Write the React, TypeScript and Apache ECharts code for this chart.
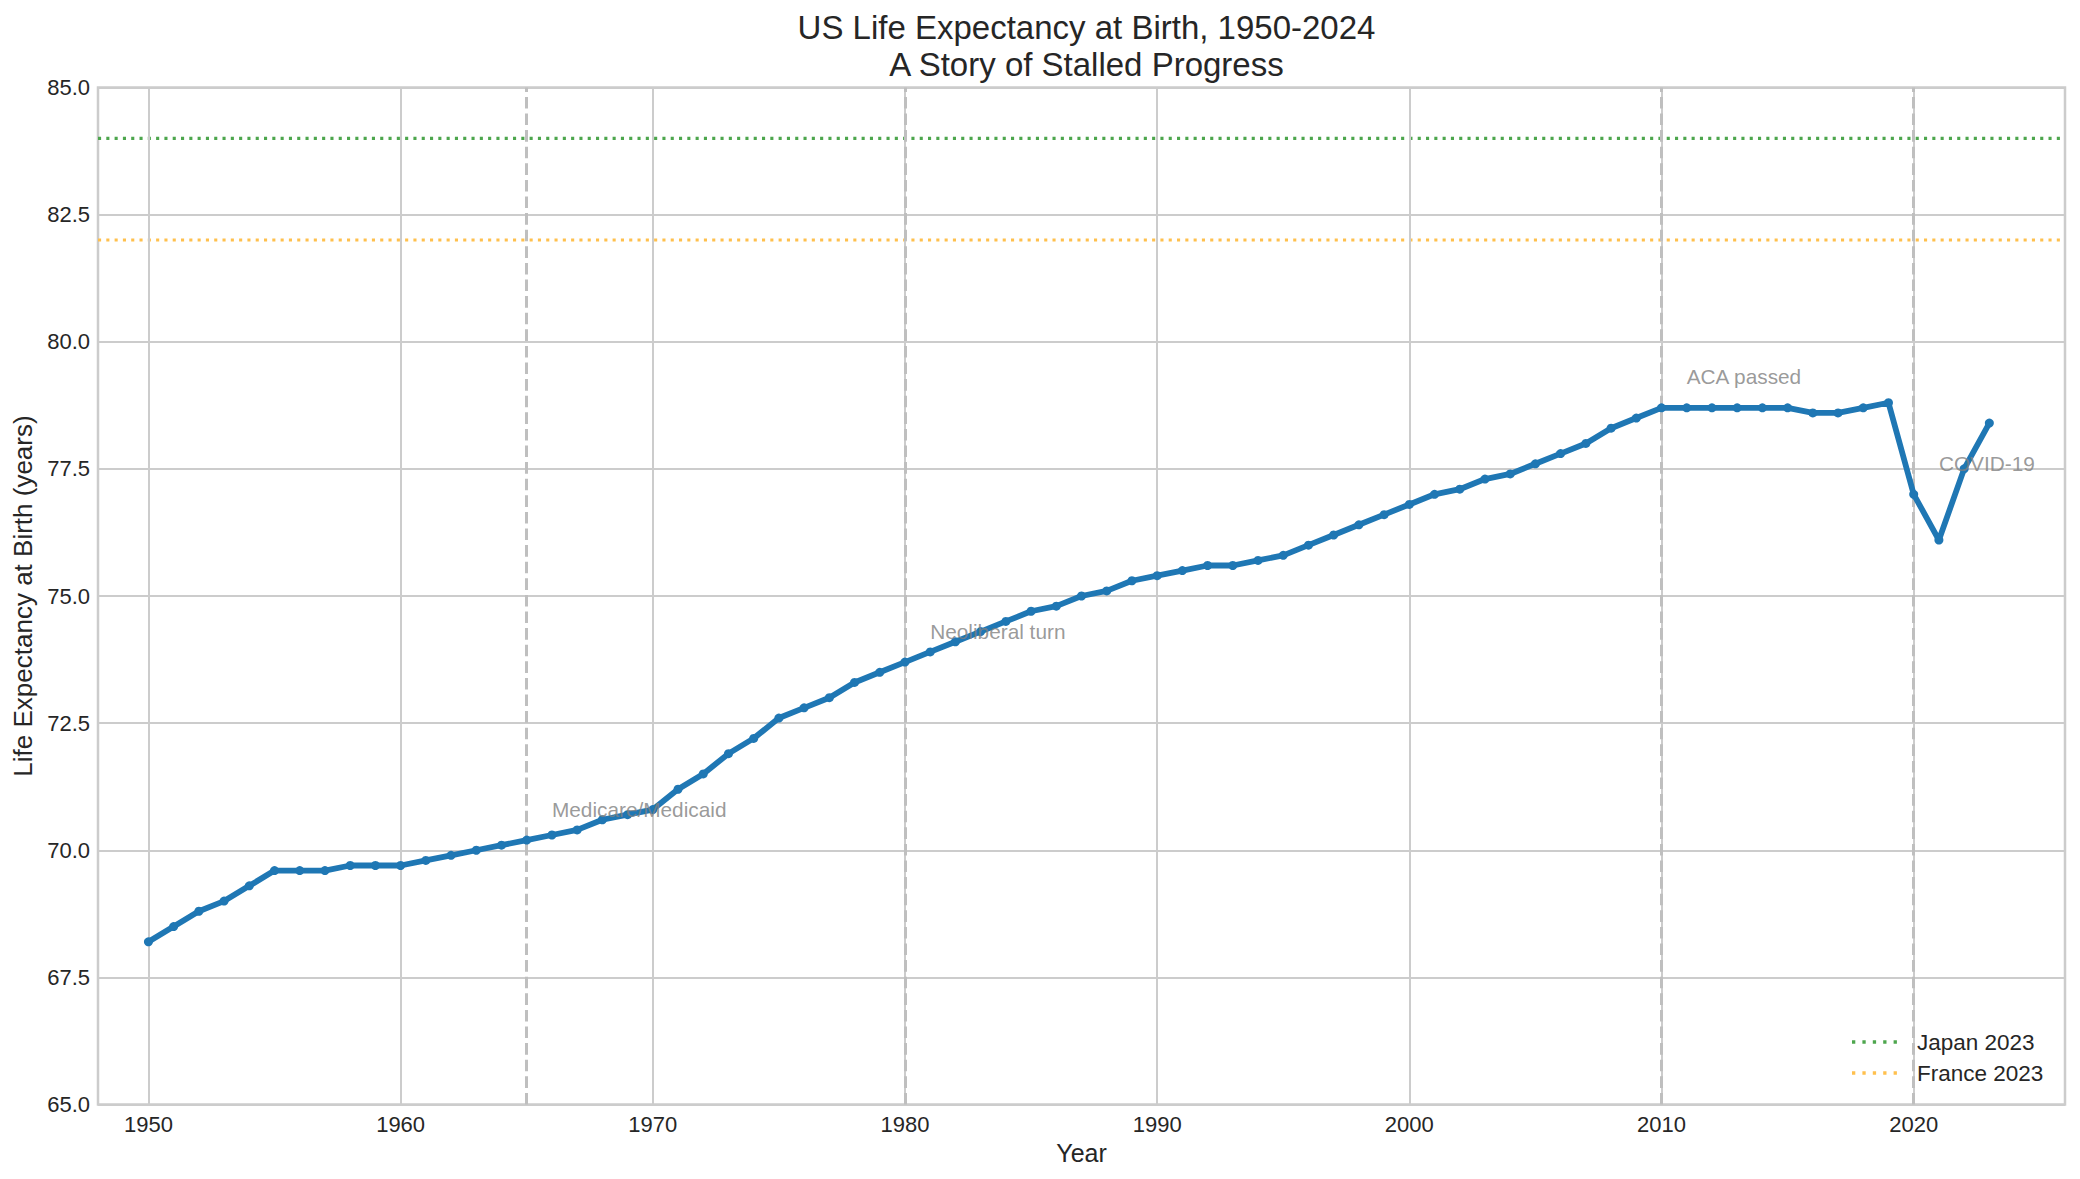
import React, { useEffect, useRef } from "react";
import * as echarts from "echarts";

const years: number[] = [];
for (let y = 1950; y <= 2023; y++) years.push(y);

const lifeExpectancy = [
  68.2, 68.5, 68.8, 69.0, 69.3, 69.6, 69.6, 69.6, 69.7, 69.7,
  69.7, 69.8, 69.9, 70.0, 70.1, 70.2, 70.3, 70.4, 70.6, 70.7,
  70.8, 71.2, 71.5, 71.9, 72.2, 72.6, 72.8, 73.0, 73.3, 73.5,
  73.7, 73.9, 74.1, 74.3, 74.5, 74.7, 74.8, 75.0, 75.1, 75.3,
  75.4, 75.5, 75.6, 75.6, 75.7, 75.8, 76.0, 76.2, 76.4, 76.6,
  76.8, 77.0, 77.1, 77.3, 77.4, 77.6, 77.8, 78.0, 78.3, 78.5,
  78.7, 78.7, 78.7, 78.7, 78.7, 78.7, 78.6, 78.6, 78.7, 78.8,
  77.0, 76.1, 77.5, 78.4,
];

const eventYears = [1965, 1980, 2010, 2020];
const eventLabels = ["Medicare/Medicaid", "Neoliberal turn", "ACA passed", "COVID-19"];

const benchmarkNames = ["Japan 2023", "France 2023"];
const benchmarkValues = [84.0, 82.0];
const benchmarkColors = ["#4da64d", "#ffc04d"];

const xTicks = [1950, 1960, 1970, 1980, 1990, 2000, 2010, 2020];
const X_MIN = 1948;
const X_MAX = 2026;
const Y_MIN = 65;
const Y_MAX = 85;

const FONT = "'Liberation Sans', Arial, Helvetica, sans-serif";
const TEXT = "#262626";

// dotted legend handle: 5 small squares across a 45 x 3.3 box
const DOTS_ICON =
  "path://M0,0h3.3v3.3h-3.3z M10.4,0h3.3v3.3h-3.3z M20.8,0h3.3v3.3h-3.3z M31.2,0h3.3v3.3h-3.3z M41.6,0h3.3v3.3h-3.3z";

export default function App() {
  const ref = useRef<HTMLDivElement>(null);

  useEffect(() => {
    if (!ref.current) return;
    const chart = echarts.init(ref.current, null, { renderer: "svg" });

    const mainData = years.map((y, i) => [y, lifeExpectancy[i]]);
    const annData = eventYears.map((y, i) => {
      const v = lifeExpectancy[years.indexOf(y)];
      return { value: [y + 1, v + 0.5], name: eventLabels[i] };
    });

    const benchmarkSeries = benchmarkNames.map((name, i) => ({
      name,
      type: "line",
      data: [
        [X_MIN, benchmarkValues[i]],
        [X_MAX, benchmarkValues[i]],
      ],
      symbol: "none",
      silent: true,
      z: 3,
      lineStyle: {
        color: benchmarkColors[i],
        width: 3.1,
        type: [3.1, 5.2],
        cap: "butt",
      },
      itemStyle: { color: benchmarkColors[i] },
    }));

    const option: any = {
      animation: false,
      backgroundColor: "#ffffff",
      textStyle: { fontFamily: FONT },
      title: {
        text: "US Life Expectancy at Birth, 1950-2024\nA Story of Stalled Progress",
        left: 1081.5,
        top: 4,
        textAlign: "center",
        textStyle: {
          fontFamily: FONT,
          fontSize: 33,
          fontWeight: "normal",
          color: TEXT,
          lineHeight: 37,
        },
      },
      grid: {
        left: 98,
        right: 15,
        top: 87.5,
        bottom: 74.5,
        show: true,
        borderColor: "#cccccc",
        borderWidth: 2.5,
        backgroundColor: "transparent",
        containLabel: false,
      },
      legend: {
        data: benchmarkNames.map((n) => ({ name: n, icon: DOTS_ICON })),
        orient: "vertical",
        left: 1852,
        top: 1030,
        padding: 0,
        itemWidth: 45,
        itemHeight: 3.3,
        itemGap: 7,
        align: "left",
        textStyle: {
          fontFamily: FONT,
          fontSize: 22.5,
          lineHeight: 24,
          color: TEXT,
          padding: [0, 0, 0, 15],
        },
        selectedMode: false,
      },
      xAxis: {
        type: "value",
        min: X_MIN,
        max: X_MAX,
        name: "Year",
        nameLocation: "middle",
        nameGap: 34,
        nameTextStyle: { fontFamily: FONT, fontSize: 25, color: TEXT },
        axisLine: { show: false },
        axisTick: { show: false },
        splitLine: { show: false },
        axisLabel: {
          customValues: xTicks,
          fontFamily: FONT,
          fontSize: 22,
          color: TEXT,
          margin: 9,
          formatter: (v: number) => String(v),
        },
      },
      yAxis: {
        type: "value",
        min: Y_MIN,
        max: Y_MAX,
        interval: 2.5,
        name: "Life Expectancy at Birth (years)",
        nameLocation: "middle",
        nameGap: 60,
        nameRotate: 90,
        nameTextStyle: { fontFamily: FONT, fontSize: 26, color: TEXT },
        axisLine: { show: false },
        axisTick: { show: false },
        splitLine: { show: true, lineStyle: { color: "#cccccc", width: 2 } },
        axisLabel: {
          fontFamily: FONT,
          fontSize: 22,
          color: TEXT,
          margin: 8,
          formatter: (v: number) => v.toFixed(1),
        },
      },
      series: [
        {
          name: "xgrid",
          type: "line",
          data: [],
          silent: true,
          z: 1,
          markLine: {
            silent: true,
            symbol: "none",
            label: { show: false },
            animation: false,
            lineStyle: { color: "#cccccc", width: 2, type: "solid" },
            data: xTicks.map((x) => ({ xAxis: x })),
          },
        },
        {
          name: "events",
          type: "line",
          data: [],
          silent: true,
          z: 2,
          markLine: {
            silent: true,
            symbol: "none",
            label: { show: false },
            animation: false,
            lineStyle: { color: "#bfbfbf", width: 3, type: [11.6, 5] },
            data: eventYears.map((x) => ({ xAxis: x })),
          },
        },
        ...benchmarkSeries,
        {
          name: "US",
          type: "line",
          data: mainData,
          symbol: "circle",
          symbolSize: 9,
          showSymbol: true,
          z: 5,
          lineStyle: { color: "#1f77b4", width: 5.8 },
          itemStyle: { color: "#1f77b4" },
        },
        {
          name: "annotations",
          type: "scatter",
          data: annData,
          symbolSize: 0,
          silent: true,
          z: 6,
          label: {
            show: true,
            position: [0, 0],
            align: "left",
            verticalAlign: "bottom",
            offset: [0, 5],
            formatter: (p: any) => p.name,
            fontFamily: FONT,
            fontSize: 20.8,
            color: "#808080",
          },
        },
      ],
    };

    chart.setOption(option);
    return () => chart.dispose();
  }, []);

  return (
    <div
      ref={ref}
      style={{ position: "absolute", left: 0, top: 0, width: 2080, height: 1179 }}
    />
  );
}
